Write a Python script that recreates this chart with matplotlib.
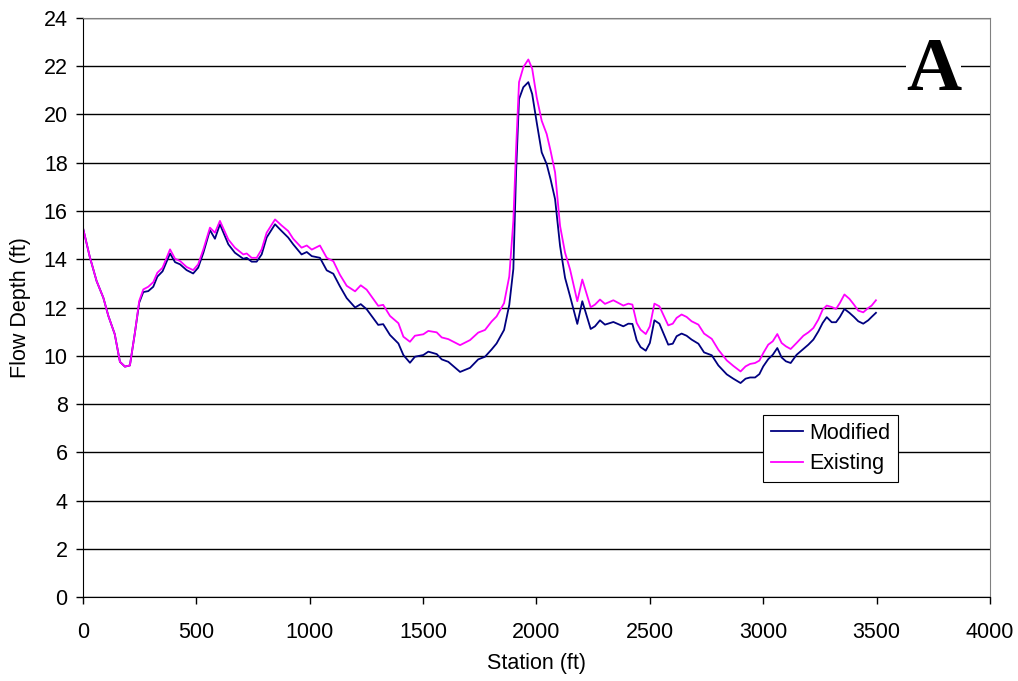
import matplotlib.pyplot as plt

# ---- flow depth profile along the channel ----
station = [0, 30, 60, 90, 112, 140, 163, 185, 207, 229, 248, 266, 288, 310, 328, 351,
           384, 406, 428, 457, 486, 508, 531, 560, 582, 604, 641, 670, 707, 722, 744, 766,
           788, 810, 847, 876, 905, 927, 964, 987, 1009, 1045, 1075, 1104, 1133, 1163,
           1200, 1225, 1251, 1302, 1324, 1354, 1391, 1413, 1442, 1464, 1501, 1523, 1560,
           1582, 1611, 1663, 1707, 1743, 1773, 1802, 1824, 1857, 1880, 1898, 1910, 1923,
           1942, 1964, 1981, 2001, 2023, 2045, 2062, 2082, 2104, 2126, 2148, 2180, 2202,
           2239, 2258, 2280, 2302, 2339, 2383, 2405, 2423, 2442, 2459, 2482, 2500, 2520,
           2542, 2581, 2601, 2618, 2640, 2662, 2684, 2714, 2739, 2773, 2802, 2839, 2868,
           2900, 2922, 2942, 2964, 2983, 3000, 3022, 3042, 3062, 3081, 3100, 3121, 3147,
           3177, 3199, 3221, 3243, 3262, 3280, 3302, 3321, 3338, 3358, 3380, 3400, 3419,
           3441, 3463, 3478, 3497]

modified = [15.3, 14.1, 13.1, 12.4, 11.65, 10.9, 9.75, 9.55, 9.6, 10.95, 12.2, 12.64,
            12.68, 12.86, 13.28, 13.5, 14.24, 13.88, 13.79, 13.55, 13.41, 13.65, 14.27,
            15.21, 14.85, 15.45, 14.62, 14.27, 14.02, 14.06, 13.9, 13.9, 14.2, 14.9, 15.45,
            15.17, 14.9, 14.62, 14.2, 14.3, 14.13, 14.06, 13.54, 13.4, 12.88, 12.39, 12.0,
            12.14, 11.93, 11.28, 11.31, 10.86, 10.51, 10.03, 9.71, 9.96, 10.03, 10.17,
            10.07, 9.85, 9.75, 9.33, 9.5, 9.85, 9.96, 10.26, 10.51, 11.07, 12.11, 13.6,
            17.6, 20.64, 21.13, 21.34, 20.85, 19.67, 18.43, 17.94, 17.32, 16.49, 14.55,
            13.23, 12.47, 11.32, 12.26, 11.11, 11.22, 11.47, 11.29, 11.4, 11.22, 11.33,
            11.32, 10.64, 10.36, 10.21, 10.53, 11.47, 11.33, 10.46, 10.5, 10.81, 10.92,
            10.83, 10.67, 10.5, 10.14, 10.02, 9.6, 9.23, 9.05, 8.87, 9.05, 9.1, 9.1, 9.24,
            9.56, 9.86, 10.04, 10.32, 9.93, 9.77, 9.7, 10.04, 10.28, 10.46, 10.67, 11.01,
            11.36, 11.6, 11.39, 11.39, 11.61, 11.94, 11.78, 11.61, 11.43, 11.33, 11.47,
            11.61, 11.78]

existing = [15.3, 14.1, 13.1, 12.4, 11.65, 10.9, 9.75, 9.55, 9.6, 10.95, 12.27, 12.75,
            12.86, 13.05, 13.44, 13.65, 14.41, 14.02, 13.93, 13.68, 13.55, 13.79, 14.41,
            15.31, 15.1, 15.59, 14.82, 14.48, 14.2, 14.24, 14.06, 14.06, 14.41, 15.1, 15.65,
            15.4, 15.17, 14.85, 14.48, 14.57, 14.4, 14.57, 14.06, 13.92, 13.36, 12.9, 12.67,
            12.92, 12.74, 12.07, 12.11, 11.65, 11.35, 10.79, 10.58, 10.83, 10.89, 11.03,
            10.97, 10.76, 10.69, 10.44, 10.65, 10.96, 11.07, 11.42, 11.63, 12.18, 13.29,
            15.6, 18.56, 21.34, 21.96, 22.28, 21.9, 20.71, 19.74, 19.19, 18.5, 17.6, 15.38,
            14.27, 13.58, 12.26, 13.16, 12.01, 12.12, 12.33, 12.15, 12.3, 12.08, 12.16,
            12.12, 11.36, 11.08, 10.9, 11.22, 12.16, 12.05, 11.26, 11.33, 11.57, 11.71,
            11.61, 11.43, 11.29, 10.92, 10.7, 10.25, 9.81, 9.58, 9.35, 9.56, 9.66, 9.7, 9.8,
            10.11, 10.46, 10.6, 10.9, 10.53, 10.39, 10.28, 10.53, 10.83, 10.97, 11.15, 11.5,
            11.91, 12.08, 12.02, 11.94, 12.19, 12.54, 12.36, 12.12, 11.87, 11.8, 11.98,
            12.08, 12.3]

plt.rcParams['font.family'] = ['Liberation Sans', 'DejaVu Sans']
FS = 15.5

fig = plt.figure(figsize=(10.18, 6.81), dpi=100)
ax = fig.add_axes([0.0815, 0.1233, 0.891, 0.8503])

ax.plot(station, modified, color='#000080', lw=1.3, label='Modified')
ax.plot(station, existing, color='#FF00FF', lw=1.3, label='Existing')

ax.set_xlim(0, 4000)
ax.set_ylim(0, 24)
ax.set_xticks(range(0, 4001, 500))
ax.set_yticks(range(0, 25, 2))
ax.yaxis.grid(True, color='black', lw=1.0)
ax.set_axisbelow(True)
ax.tick_params(labelsize=FS, length=5, width=1, color='black', direction='out')
ax.tick_params(axis='x', pad=13)
ax.tick_params(axis='y', pad=6)

for side in ['left', 'bottom']:
    ax.spines[side].set_color('black')
for side in ['top', 'right']:
    ax.spines[side].set_color('#808080')

ax.set_xlabel('Station (ft)', fontsize=FS, labelpad=7)
ax.set_ylabel('Flow Depth (ft)', fontsize=FS, labelpad=9)

ax.text(0.938, 0.907, 'A', transform=ax.transAxes, ha='center', va='center',
        fontsize=55, fontweight='bold', family='Liberation Serif',
        bbox=dict(facecolor='white', edgecolor='none', pad=0))

leg = ax.legend(loc='upper left', bbox_to_anchor=(0.7497, 0.3143), borderaxespad=0,
                fontsize=FS, fancybox=False, framealpha=1, edgecolor='black',
                handlelength=1.5, handletextpad=0.3, borderpad=0.35, labelspacing=0.45)
leg.get_frame().set_linewidth(0.8)

fig.savefig('out.png', dpi=100, facecolor='white')
